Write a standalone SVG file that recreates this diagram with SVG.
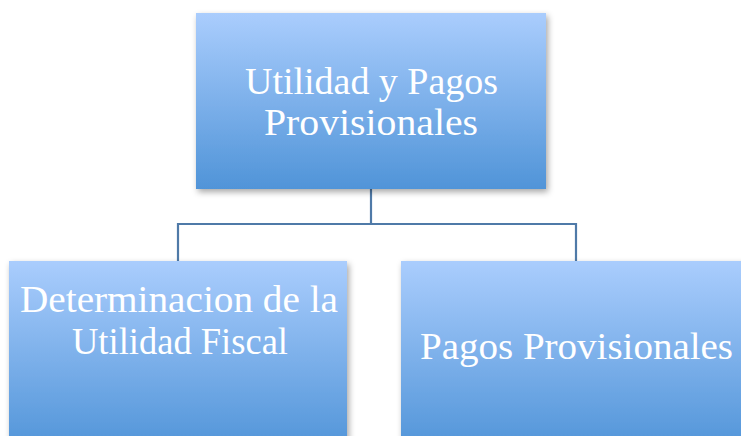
<svg xmlns="http://www.w3.org/2000/svg" width="741" height="436" viewBox="0 0 741 436">
<defs>
<linearGradient id="g" x1="0" y1="0" x2="0" y2="1">
<stop offset="0" stop-color="#aacdfd"/>
<stop offset="1" stop-color="#5094d8"/>
</linearGradient>
<filter id="sh" x="-10%" y="-10%" width="125%" height="130%">
<feDropShadow dx="2" dy="3" stdDeviation="3" flood-color="#000" flood-opacity="0.35"/>
</filter>
</defs>
<style>
.box{fill:url(#g);filter:url(#sh)}
.t{font-family:"Liberation Serif","DejaVu Serif",serif;font-size:38px;fill:#ffffff;text-anchor:middle}
.c{fill:none;stroke:#4f7aa8;stroke-width:2.2}
</style>
<rect width="741" height="436" fill="#ffffff"/>
<g id="connectors">
<path class="c" d="M371 189 V224 M178 261 V224 H576 V261"/>
</g>
<g id="top">
<rect class="box" x="196" y="13" width="350" height="176"/>
<text class="t" x="371.5" y="94" textLength="253" lengthAdjust="spacingAndGlyphs">Utilidad y Pagos</text>
<text class="t" x="371" y="135" textLength="214" lengthAdjust="spacingAndGlyphs">Provisionales</text>
</g>
<g id="left">
<rect class="box" x="9" y="261" width="338" height="190"/>
<text class="t" x="179" y="312" textLength="318" lengthAdjust="spacingAndGlyphs">Determinacion de la</text>
<text class="t" x="180" y="354" textLength="216" lengthAdjust="spacingAndGlyphs">Utilidad Fiscal</text>
</g>
<g id="right">
<rect class="box" x="401" y="261" width="350" height="190"/>
<text class="t" x="576.5" y="359" textLength="313" lengthAdjust="spacingAndGlyphs">Pagos Provisionales</text>
</g>
</svg>
